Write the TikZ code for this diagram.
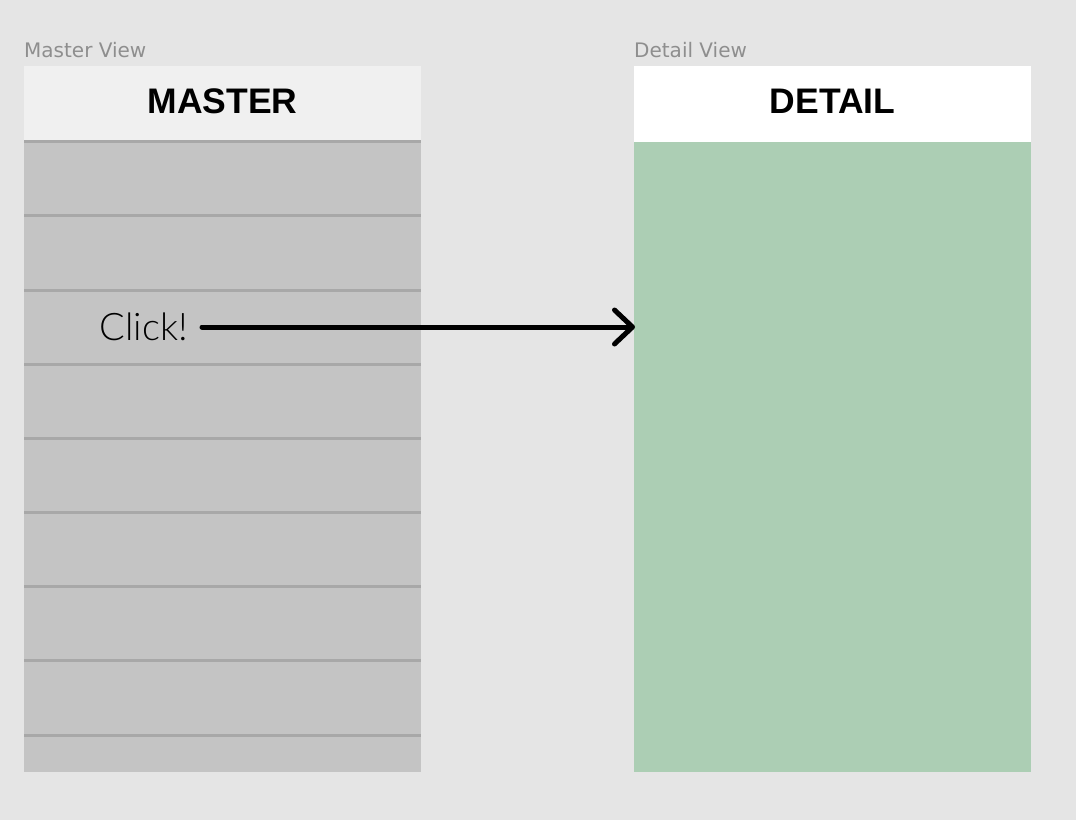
\documentclass[tikz,border=0pt]{standalone}
\usepackage{fontspec}
\setmainfont{Liberation Sans}
\newfontfamily\lightfont{Lato}[UprightFont=* Light]
\newfontfamily\labelfont{DejaVu Sans}
\usetikzlibrary{arrows.meta}
\definecolor{bg}{HTML}{E5E5E5}
\definecolor{hdr}{HTML}{F0F0F0}
\definecolor{mbody}{HTML}{C4C4C4}
\definecolor{sep}{HTML}{A8A8A8}
\definecolor{dbody}{HTML}{ACCEB4}
\definecolor{lbl}{HTML}{8E8E8E}
\tikzset{
  panel/.style={inner sep=0, outer sep=0, anchor=north west, minimum width=397pt},
  header/.style={panel, minimum height=75pt, text height=25.4pt, text depth=6.4pt, font=\bfseries\fontsize{35.5}{35.5}\selectfont},
  viewlabel/.style={anchor=base west, inner sep=0, text=lbl, font=\labelfont\fontsize{20}{20}\selectfont},
  sepline/.style={draw=sep, line width=3pt},
  clickarrow/.style={line width=5pt, line cap=round, -{Straight Barb[length=18pt,width=34pt,line cap=round,line join=round]}}
}
\begin{document}
\begin{tikzpicture}[x=1pt,y=-1pt]
\fill[bg] (0,0) rectangle (1076,820);
\useasboundingbox (0,0) rectangle (1076,820);
% labels
\node[viewlabel] (mlabel) at (24,57) {Master View};
\node[viewlabel] (dlabel) at (634,57) {Detail View};
% master
\node[panel, fill=mbody, minimum height=632pt] (mbody) at (24,140) {};
\node[header, fill=hdr] (mhead) at (24,66) {MASTER};
\foreach \yy in {141,215,290,364,438,512,586,660,735}
  \draw[sepline] (24,\yy) -- (421,\yy);
% detail
\node[panel, fill=dbody, minimum height=630pt] (dbody) at (634,142) {};
\node[header, fill=white, minimum height=76pt] (dhead) at (634,66) {DETAIL};
% click
\node[anchor=base east, inner sep=0, font=\lightfont\fontsize{38}{38}\selectfont] (click) at (188,340) {Click!};
\coordinate (target) at (dbody.west |- 0,327);
\coordinate (start) at (202,327);
\draw[clickarrow] (start) -- ([xshift=1pt]target);
\end{tikzpicture}
\end{document}
